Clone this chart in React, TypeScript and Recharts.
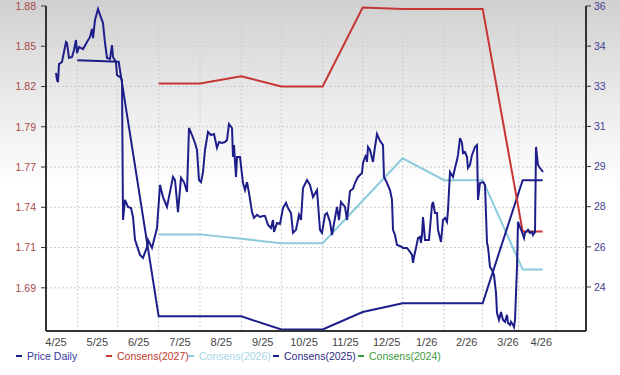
import React from "react";
import {
  LineChart,
  Line,
  XAxis,
  YAxis,
  CartesianGrid,
  ReferenceLine,
} from "recharts";

// days counted from the first trading day shown (4/25)
const priceDays = [
  0, 0.75, 1.5, 2.25, 4.5, 7.5, 8.25, 9.75, 12, 13.5,
  15, 15.75, 17.25, 20.25, 23.25, 25.5, 27, 27.75, 29.25, 31.5,
  33, 35.25, 36.75, 38.25, 40.5, 42, 42.75, 45, 45.75, 48,
  49.5, 50.25, 51.75, 54, 56.25, 57.75, 59.25, 63, 65.25, 68.25,
  69, 72, 75.75, 78, 80.25, 83.25, 85.5, 87.75, 89.25, 91.5,
  93.75, 96, 98.25, 99.75, 102, 104.25, 105.75, 107.25, 108.75, 110.25,
  111.75, 114, 116.25, 118.5, 120.75, 122.25, 124.5, 126.75, 128.25, 129.75,
  132, 132.75, 133.5, 134.25, 135, 135.75, 138, 140.25, 141.75, 143.25,
  144.75, 147, 148.5, 150.75, 153, 155.25, 156.75, 159, 161.25, 162.75,
  163.5, 165.75, 168, 170.25, 172.5, 174, 176.25, 177.75, 180, 182.25,
  183.75, 185.25, 188.25, 190.5, 192.75, 195.75, 198, 199.5, 201.75, 203.25,
  205.5, 207, 209.25, 210.75, 212.25, 213.75, 216.75, 218.25, 220.5, 222.75,
  224.25, 226.5, 229.5, 230.25, 232.5, 233.25, 234, 235.5, 237.75, 239.25,
  240.75, 243, 245.25, 246, 248.25, 250.5, 252, 252.75, 254.25, 255.75,
  258, 260.25, 263.25, 265.5, 267, 267.75, 268.5, 270, 271.5, 273,
  273.75, 274.5, 275.25, 276.75, 279.75, 282, 282.75, 284.25, 285.75, 286.5,
  288.75, 290.25, 291.75, 293.25, 294, 295.5, 297.75, 299.25, 300.75, 301.5,
  303, 304.5, 305.25, 306.75, 308.25, 309, 310.5, 312, 314.25, 315.75,
  316.5, 318, 320.25, 321.75, 323.25, 324, 325.5, 327, 328.5, 330,
  330.75, 332.25, 333.75, 335.25, 336.75, 338.25, 339, 340.5, 341.25, 342.75,
  343.5, 344.25, 345.75, 346.5, 348, 349.5, 351, 351.75, 354, 355.5,
  357, 357.75, 359.25, 360, 361.5, 363, 365.25,
];

const priceValues = [
  33.14, 32.84, 32.75, 33.52, 33.61, 34.46, 34.42, 33.78, 33.82, 34.12,
  34.55, 33.99, 34.25, 34.16, 34.46, 34.68, 35.02, 34.63, 35.4, 35.87,
  35.62, 35.27, 34.42, 33.78, 33.74, 34.33, 33.82, 33.61, 33.05, 32.97,
  32.84, 26.86, 27.72, 27.42, 27.37, 26.99, 26.01, 25.37, 25.24, 25.71,
  26.01, 25.67, 26.52, 28.36, 27.84, 27.42, 28.06, 28.7, 28.57, 27.2,
  28.66, 28.48, 28.06, 30.79, 30.49, 30.15, 29.85, 28.57, 28.48, 28.91,
  29.85, 30.62, 30.49, 30.53, 29.94, 30.19, 30.15, 30.19, 30.28, 30.96,
  30.79, 29.55, 30.06, 29.34, 28.7, 29.55, 29.55, 28.44, 28.14, 28.48,
  28.02, 27.2, 26.95, 27.08, 26.99, 27.03, 27.03, 26.65, 26.52, 26.86,
  26.35, 26.73, 26.69, 27.37, 27.59, 27.37, 27.16, 26.31, 26.44, 27.08,
  26.86, 28.23, 28.57, 28.36, 27.84, 28.14, 26.44, 26.31, 27.08, 27.16,
  26.78, 26.22, 26.95, 27.42, 26.86, 27.63, 27.42, 26.86, 28.1, 28.19,
  28.44, 28.7, 28.87, 29.3, 29.64, 29.34, 29.98, 29.85, 29.34, 29.98,
  30.53, 30.24, 30.06, 28.7, 28.44, 28.14, 27.72, 26.44, 26.22, 25.79,
  25.75, 25.67, 25.67, 25.5, 25.37, 25.03, 25.28, 25.67, 26.09, 26.14,
  25.88, 26.22, 26.99, 26.01, 26.01, 27.5, 27.63, 27.16, 27.16, 26.44,
  25.92, 26.86, 26.95, 26.78, 27.29, 28.91, 28.7, 29.08, 29.42, 29.64,
  30.36, 30.15, 29.72, 29.77, 29.55, 29.08, 29.21, 29.64, 29.98, 30.06,
  27.72, 28.44, 28.48, 28.36, 25.88, 25.71, 24.86, 24.73, 24.51, 23.75,
  22.89, 22.59, 22.93, 22.59, 22.51, 22.81, 22.46, 22.38, 22.51, 22.38,
  22.29, 22.59, 24.86, 26.78, 26.56, 26.35, 26.09, 26.31, 26.44, 26.31,
  26.35, 26.22, 26.35, 29.98, 29.21, 29.08, 28.91,
];

// monthly consensus estimates
const consDays = [16, 47, 77, 108, 139, 169, 200, 230, 260, 291, 320, 350, 365];
const cons2027 = [null, null, 1.827, 1.827, 1.832, 1.825, 1.825, 1.879, 1.878, 1.878, 1.878, 1.726, 1.726];
const cons2026 = [null, null, 1.724, 1.724, 1.721, 1.718, 1.718, 1.747, 1.776, 1.761, 1.761, 1.7, 1.7];
const cons2025 = [1.843, 1.842, 1.668, 1.668, 1.668, 1.659, 1.659, 1.671, 1.677, 1.677, 1.677, 1.761, 1.761];
const cons2024 = [null, null, null, null, null, null, null, null, null, null, null, null, null];

const monthTicks = [0, 31, 62, 93, 124, 155, 186, 217, 248, 278, 308, 339, 364];
const monthLabels = ["4/25", "5/25", "6/25", "7/25", "8/25", "9/25", "10/25", "11/25", "12/25", "1/26", "2/26", "3/26", "4/26"];
const gridDays = [16, 46, 77, 108, 139, 169, 200, 230, 260, 291, 320, 347, 375];

const leftTicks = [1.88, 1.8525, 1.825, 1.7975, 1.77, 1.7425, 1.715, 1.6875];
const leftLabels = ["1.88", "1.85", "1.82", "1.79", "1.77", "1.74", "1.71", "1.69"];
const rightTicks = [36, 34.286, 32.571, 30.857, 29.143, 27.429, 25.714, 24];
const rightLabels = ["36", "34", "33", "31", "29", "28", "26", "24"];

const FONT = "'Liberation Sans', Arial, sans-serif";
const NAVY = "#1e1e8a";
const RED = "#c83535";
const LIGHT = "#8ccbdc";
const GREEN = "#3a9a3a";
const AXIS = "#333333";
const GRID = "#cdcdcd";

const priceData = priceDays.map((day, i) => ({ day, price: priceValues[i] }));
const consData = consDays.map((day, i) => ({
  day,
  c2027: cons2027[i],
  c2026: cons2026[i],
  c2025: cons2025[i],
  c2024: cons2024[i],
}));

// small ticks between the labelled ones on the price axis
const rightStep = (36 - 24) / 7;
const rightMinorTicks: number[] = [];
for (let v = 36; v > 22.2; v -= rightStep / 4) rightMinorTicks.push(v);

const legendItems = [
  { label: "Price Daily", color: NAVY, text: "#34349a", left: 16 },
  { label: "Consens(2027)", color: RED, text: "#c0392b", left: 106 },
  { label: "Consens(2026)", color: LIGHT, text: "#a9d6e4", left: 188 },
  { label: "Consens(2025)", color: NAVY, text: "#2a2a82", left: 273 },
  { label: "Consens(2024)", color: GREEN, text: "#3c9a3c", left: 358 },
];

const App: React.FC = () => {
  return (
    <div
      style={{
        position: "relative",
        width: 620,
        height: 375,
        background: "linear-gradient(to bottom, #d0d0d0 0%, #e6e6e6 22%, #ffffff 50%)",
        fontFamily: FONT,
      }}
    >
      <style>{"body{margin:0}"}</style>
      <LineChart width={620} height={375} margin={{ top: 6, right: 0, bottom: 30, left: 0 }}>
        <CartesianGrid yAxisId="left" vertical={false} stroke={GRID} strokeDasharray="2 2" />
        {gridDays.map((d) => (
          <ReferenceLine key={d} x={d} yAxisId="left" stroke={GRID} strokeDasharray="2 2" />
        ))}
        <XAxis
          dataKey="day"
          type="number"
          domain={[-7.5, 397.5]}
          allowDataOverflow
          ticks={monthTicks}
          interval={0}
          tickFormatter={(v) => monthLabels[monthTicks.indexOf(v)]}
          height={14}
          tickLine={false}
          tickSize={4}
          tickMargin={3}
          axisLine={{ stroke: AXIS, strokeWidth: 2 }}
          tick={{ fontSize: 11, fill: "#444", fontFamily: FONT }}
        />
        <YAxis
          yAxisId="left"
          type="number"
          domain={[1.658, 1.88]}
          allowDataOverflow
          ticks={leftTicks}
          interval={0}
          tickFormatter={(v) => leftLabels[leftTicks.indexOf(v)]}
          width={46}
          tickSize={5}
          tickMargin={5}
          tickLine={{ stroke: AXIS }}
          axisLine={{ stroke: AXIS, strokeWidth: 2 }}
          tick={{ fontSize: 10.5, fill: "#a84848", fontFamily: FONT }}
        />
        <YAxis
          yAxisId="rightMinor"
          orientation="right"
          type="number"
          domain={[22.12, 36]}
          allowDataOverflow
          ticks={rightMinorTicks}
          interval={0}
          width={0}
          tick={false}
          tickSize={3}
          tickLine={{ stroke: AXIS }}
          axisLine={false}
        />
        <YAxis
          yAxisId="right"
          orientation="right"
          type="number"
          domain={[22.12, 36]}
          allowDataOverflow
          ticks={rightTicks}
          interval={0}
          tickFormatter={(v) => rightLabels[rightTicks.indexOf(v)]}
          width={34}
          tickSize={5}
          tickMargin={3}
          tickLine={{ stroke: AXIS }}
          axisLine={{ stroke: AXIS, strokeWidth: 2 }}
          tick={{ fontSize: 10.5, fill: "#40408f", fontFamily: FONT }}
        />
        <Line yAxisId="left" data={consData} dataKey="c2024" stroke={GREEN} strokeWidth={2} dot={false} isAnimationActive={false} />
        <Line yAxisId="left" data={consData} dataKey="c2026" stroke={LIGHT} strokeWidth={2} dot={false} isAnimationActive={false} />
        <Line yAxisId="left" data={consData} dataKey="c2025" stroke={NAVY} strokeWidth={2} dot={false} isAnimationActive={false} />
        <Line yAxisId="left" data={consData} dataKey="c2027" stroke={RED} strokeWidth={2} dot={false} isAnimationActive={false} />
        <Line yAxisId="right" data={priceData} dataKey="price" stroke={NAVY} strokeWidth={2} dot={false} isAnimationActive={false} />
      </LineChart>
      {legendItems.map((item) => (
        <div
          key={item.label}
          style={{
            position: "absolute",
            left: item.left,
            top: 349,
            height: 14,
            display: "flex",
            alignItems: "center",
            fontSize: 10.5,
            color: item.text,
            whiteSpace: "nowrap",
          }}
        >
          <span style={{ display: "inline-block", width: 6, height: 2, background: item.color, marginRight: 5 }} />
          {item.label}
        </div>
      ))}
    </div>
  );
};

export default App;
